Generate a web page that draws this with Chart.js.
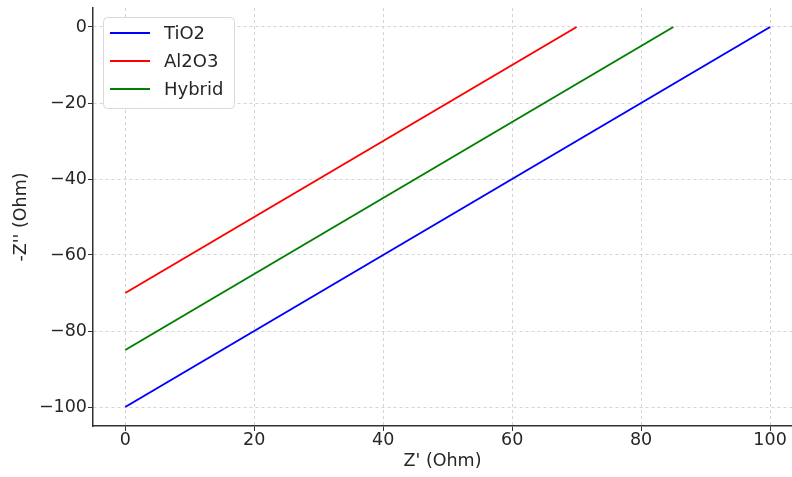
<!DOCTYPE html>
<html lang="en">
<head>
  <meta charset="UTF-8" />
  <title>Nyquist plot</title>
  <script src="https://cdn.jsdelivr.net/npm/chart.js"></script>
  <style>
    body { margin: 0; background: #fff; }
    #wrap { width: 792px; height: 477px; }
  </style>
</head>
<body>
  <div id="wrap"><canvas id="chartNyquist"></canvas></div>

  <script>
    // values
    const seriesNames = ["TiO2", "Al2O3", "Hybrid"];
    const seriesColors = ["#0000ff", "#ff0000", "#008000"];
    const tio2X = [0, 100];
    const tio2Y = [-100, 0];
    const al2o3X = [0, 70];
    const al2o3Y = [-70, 0];
    const hybridX = [0, 85];
    const hybridY = [-85, 0];
    const xTicks = [0, 20, 40, 60, 80, 100];
    const yTicks = [-100, -80, -60, -40, -20, 0];

    const xs = [tio2X, al2o3X, hybridX];
    const ys = [tio2Y, al2o3Y, hybridY];

    const FONT = "'DejaVu Sans', sans-serif";
    const TXT = "#262626";
    const FS = 17.5;

    // legend box drawn inside the plot, like matplotlib
    const innerLegend = {
      id: "innerLegend",
      afterDraw(chart) {
        const ctx = chart.ctx;
        const a = chart.chartArea;
        const x0 = a.left + 10, y0 = a.top + 9, w = 131, h = 91;
        ctx.save();
        ctx.fillStyle = "rgba(255,255,255,0.9)";
        ctx.strokeStyle = "#d9d9d9";
        ctx.lineWidth = 1;
        ctx.beginPath();
        ctx.roundRect(x0 + 0.5, y0 + 0.5, w, h, 4);
        ctx.fill();
        ctx.stroke();
        ctx.font = "18px " + FONT;
        ctx.textBaseline = "middle";
        chart.data.datasets.forEach((ds, i) => {
          const yy = y0 + 16 + i * 28;
          ctx.strokeStyle = ds.borderColor;
          ctx.lineWidth = 2;
          ctx.beginPath();
          ctx.moveTo(x0 + 7, yy);
          ctx.lineTo(x0 + 47, yy);
          ctx.stroke();
          ctx.fillStyle = TXT;
          ctx.fillText(ds.label, x0 + 61, yy + 1);
        });
        ctx.restore();
      }
    };

    const fmt = v => String(v).replace("-", "\u2212");

    new Chart(document.getElementById("chartNyquist"), {
      type: "line",
      data: {
        datasets: seriesNames.map((name, i) => ({
          label: name,
          data: xs[i].map((x, k) => ({ x: x, y: ys[i][k] })),
          borderColor: seriesColors[i],
          backgroundColor: seriesColors[i],
          borderWidth: 2,
          pointRadius: 0,
          tension: 0,
        })),
      },
      options: {
        responsive: true,
        maintainAspectRatio: false,
        animation: false,
        layout: { padding: { top: 8, right: 0, left: 0, bottom: 0 } },
        plugins: {
          legend: { display: false },
          tooltip: { enabled: false },
        },
        scales: {
          x: {
            type: "linear",
            min: -5,
            max: 103.4,
            afterBuildTicks: axis => { axis.ticks = xTicks.map(v => ({ value: v })); },
            afterFit: axis => {
              axis.height = 51;
              axis.paddingLeft = 0;
              axis.paddingRight = 0;
            },
            ticks: {
              font: { size: FS, family: FONT },
              color: TXT,
              padding: -1,
              maxRotation: 0,
              callback: v => fmt(v),
            },
            grid: {
              color: "#d4d4d4",
              lineWidth: 1,
              tickColor: "#333",
              tickLength: 5,
              tickBorderDash: [],
            },
            border: { display: true, color: "#333", width: 1.5, dash: [3, 3] },
            title: {
              display: true,
              text: "Z' (Ohm)",
              font: { size: FS, family: FONT },
              color: TXT,
              padding: { top: 0, bottom: 5.5 },
            },
          },
          y: {
            type: "linear",
            min: -105,
            max: 5,
            afterBuildTicks: axis => { axis.ticks = yTicks.map(v => ({ value: v })); },
            afterFit: axis => {
              axis.width = 93;
              axis.paddingTop = 0;
              axis.paddingBottom = 0;
            },
            ticks: {
              font: { size: FS, family: FONT },
              color: TXT,
              padding: 1,
              callback: v => fmt(v),
            },
            grid: {
              color: "#d4d4d4",
              lineWidth: 1,
              tickColor: "#333",
              tickLength: 5,
              tickBorderDash: [],
            },
            border: { display: true, color: "#333", width: 1.5, dash: [3, 3] },
            title: {
              display: true,
              text: "-Z'' (Ohm)",
              font: { size: FS, family: FONT },
              color: TXT,
              padding: { top: 10.5, bottom: 0 },
            },
          },
        },
      },
      plugins: [innerLegend],
    });
  </script>
</body>
</html>
